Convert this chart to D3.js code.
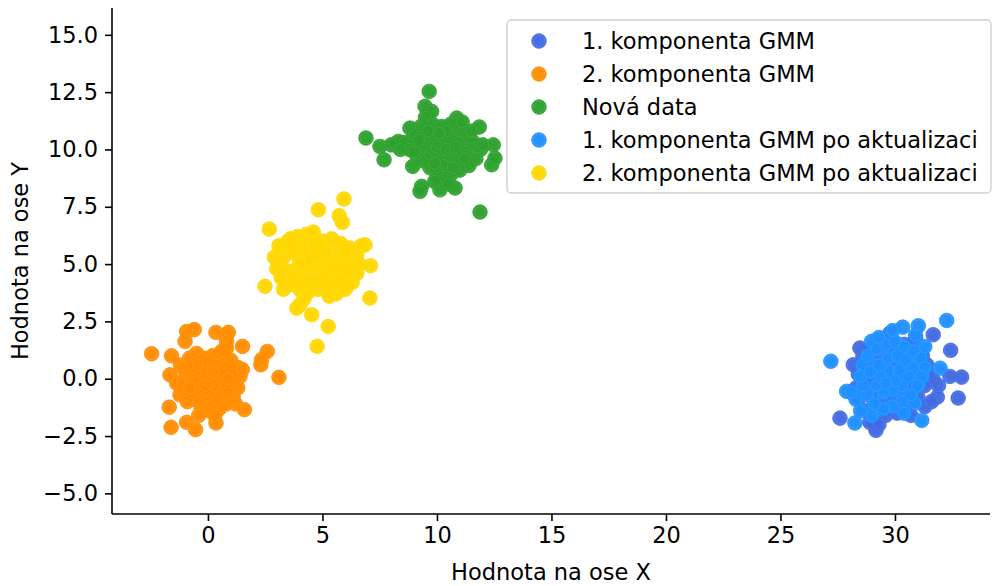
<!DOCTYPE html>
<html>
<head>
<meta charset="utf-8">
<script src="https://cdn.jsdelivr.net/npm/d3@7"></script>
<style>
  html, body { margin: 0; padding: 0; background: #fff; }
  svg { display: block; font-family: "DejaVu Sans", sans-serif; }
</style>
</head>
<body>
<svg id="chart" width="992" height="586"></svg>
<script>
/* ── data ─────────────────────────────────────────── */

const seriesNames = [
  "1. komponenta GMM",
  "2. komponenta GMM",
  "Nová data",
  "1. komponenta GMM po aktualizaci",
  "2. komponenta GMM po aktualizaci"
];
const seriesColors = ["#4169E1", "#FF8C00", "#2ca02c", "#1E90FF", "#FFD700"];

const comp1 = [
  [28.47,1.34],[28.18,0.61],[31.67,1.92],[32.43,1.24],[32.4,0.1],[32.91,0.07],[32.76,-0.84],
  [31.85,-0.8],[27.6,-1.72],[29.17,-2.25],[31.67,-0.04],[31.31,-1.21],[29.78,1.99],
  [28.6,1.0],[29.0,1.3],[29.4,1.5],[29.9,1.6],[30.4,1.5],[30.8,1.3],[31.2,1.0],[31.4,0.6],
  [31.5,0.2],[31.3,-0.3],[31.0,-0.8],[30.6,-1.2],[30.1,-1.5],[29.6,-1.6],[29.1,-1.9],[28.7,-1.4],
  [28.4,-0.9],[28.3,-0.4],[28.4,0.2],[28.8,0.5],[29.2,0.8],[29.6,1.0],[30.0,1.1],[30.5,0.9],
  [30.9,0.6],[31.0,0.1],[30.8,-0.4],[30.4,-0.8],[29.9,-1.0],[29.4,-1.1],[29.0,-0.8],[28.8,-0.3],
  [29.1,0.1],[29.5,0.4],[29.9,0.5],[30.3,0.3],[30.6,0.0],[30.3,-0.4],[29.8,-0.5],[29.4,-0.4],
  [30.0,0.0],[29.6,0.0],[31.9,-0.3],[30.9,1.8],[28.9,-1.9],[29.3,-2.0],[30.7,-1.6],[31.6,-1.0]
];

const comp2 = [
  [-2.46,1.09],[-1.59,1.0],[-1.66,0.17],[-1.69,-1.24],[-1.61,-2.12],[-0.93,-1.9],[-0.54,-2.22],
  [0.35,-1.93],[1.59,-1.35],[3.1,0.06],[2.59,1.19],[2.31,0.61],[2.34,0.83],[1.51,1.41],
  [0.89,2.02],[0.35,2.02],[0.81,1.63],[-0.6,2.14],[-0.93,2.06],[-1.0,1.63],[0.81,1.34],
  [-1.22,-0.7],[-1.37,-0.19],
  [-0.8,0.9],[-0.5,1.1],[-0.2,0.9],[0.2,1.0],[0.6,0.9],[1.0,0.8],[1.3,0.5],[1.4,0.1],[1.3,-0.4],
  [1.1,-0.8],[0.8,-1.1],[0.5,-1.3],[0.1,-1.4],[-0.3,-1.2],[-0.6,-0.9],[-0.9,-0.6],[-1.1,-0.2],
  [-1.0,0.3],[-0.7,0.5],[-0.4,0.6],[0.0,0.5],[0.4,0.6],[0.8,0.5],[1.1,0.2],[0.9,-0.2],[0.6,-0.5],
  [0.2,-0.7],[-0.2,-0.6],[-0.5,-0.3],[-0.3,0.1],[0.1,0.1],[0.5,0.0],[0.3,-0.3],[-0.1,-0.3],
  [0.7,0.2],[0.2,0.3],[-0.6,0.0],[0.0,-1.0],[0.4,-0.9],[0.9,-0.6],[-0.9,-1.0],[1.2,-1.1],
  [-1.2,0.6],[0.6,1.2],[-0.4,-1.6],[0.3,-1.6],[1.5,0.4],[-0.8,-0.4],[0.0,0.8],[0.9,0.0]
];

const newData = [
  [9.66,12.53],[6.9,10.5],[7.51,10.13],[7.69,9.55],[8.94,9.26],[8.31,10.35],[9.33,8.39],
  [9.26,8.17],[10.13,8.24],[10.79,8.32],[11.88,7.27],[11.85,10.98],[12.46,10.2],[12.39,9.33],
  [12.53,9.62],[9.48,11.88],[9.77,11.66],[10.86,11.37],[8.82,10.93],
  [8.0,10.2],[8.6,10.3],[9.0,10.6],[9.3,11.0],[9.5,11.4],[9.8,11.1],[10.2,11.0],[10.6,11.1],
  [11.0,10.9],[11.3,10.6],[11.6,10.3],[11.9,10.0],[11.7,9.6],[11.4,9.3],[11.0,9.1],[10.6,8.9],
  [10.3,8.7],[10.0,8.9],[9.7,9.2],[9.4,9.5],[9.1,9.8],[8.8,10.0],[9.4,10.2],[9.8,10.5],
  [10.2,10.4],[10.6,10.5],[11.0,10.3],[11.3,9.9],[10.9,9.7],[10.5,9.5],[10.1,9.6],[9.7,9.8],
  [10.0,10.1],[10.4,10.0],[10.8,10.1],[10.3,9.3],[9.9,9.4],[10.7,9.2],[11.2,9.6],[9.2,10.4],
  [9.6,10.8],[10.4,10.8],[11.5,10.8],[10.1,10.7],[12.0,10.2],[10.5,8.5],[9.9,8.6],[11.1,11.2],
  [8.4,10.0],[9.0,9.9]
];

const comp1Updated = [
  [27.2,0.76],[32.26,2.54],[30.34,2.25],[31.02,2.31],[27.89,-0.55],[28.25,-1.93],[31.17,-1.82],
  [30.87,-1.06],[31.97,0.46],[28.98,1.63],
  [28.6,0.6],[28.8,1.0],[29.2,1.3],[29.6,1.5],[30.0,1.6],[30.4,1.4],[30.8,1.2],[31.1,0.9],
  [31.3,0.5],[31.2,0.1],[31.0,-0.3],[30.7,-0.7],[30.3,-1.0],[29.9,-1.2],[29.5,-1.3],[29.1,-1.1],
  [28.8,-0.7],[28.6,-0.3],[28.5,0.1],[28.9,0.3],[29.3,0.6],[29.7,0.9],[30.1,1.0],[30.5,0.8],
  [30.8,0.5],[30.6,0.1],[30.3,-0.3],[29.9,-0.5],[29.5,-0.6],[29.2,-0.3],[29.4,0.1],[29.8,0.3],
  [30.2,0.4],[30.0,-0.1],[29.6,-0.2],[28.3,-0.9],[28.5,-1.4],[29.0,-1.6],[30.4,-1.5],[31.3,1.4],
  [30.9,1.9],[29.9,2.1],[28.1,-0.6],[29.3,1.8]
];

const comp2Updated = [
  [2.68,6.53],[4.82,7.37],[5.94,7.84],[5.73,7.11],[5.87,6.82],[2.49,4.03],[7.07,3.52],
  [6.86,5.84],[7.1,4.93],[4.02,3.23],[4.53,2.79],[5.25,2.28],[4.77,1.41],[3.88,3.08],
  [3.1,5.8],[3.5,6.0],[3.9,6.2],[4.3,6.3],[4.6,6.1],[5.0,6.0],[5.4,6.1],[5.8,5.9],[6.2,5.7],
  [6.5,5.4],[6.6,5.0],[6.5,4.6],[6.3,4.2],[6.0,3.9],[5.6,3.7],[5.2,3.8],[4.8,3.9],[4.4,3.8],
  [4.0,3.9],[3.6,4.1],[3.2,4.4],[3.0,4.8],[2.9,5.3],[3.3,5.3],[3.7,5.5],[4.1,5.7],[4.5,5.5],
  [4.9,5.4],[5.3,5.5],[5.7,5.3],[6.1,5.1],[5.9,4.7],[5.5,4.5],[5.1,4.6],[4.7,4.8],[4.3,4.9],
  [3.9,4.8],[3.5,4.7],[3.8,4.3],[4.2,4.4],[4.6,4.2],[5.0,4.2],[5.4,4.1],[5.8,4.3],[6.2,4.6],
  [4.4,5.2],[5.2,5.0],[5.6,4.9],[3.4,5.8],[4.0,5.1],[4.8,5.8],[6.0,5.5],[3.3,3.9],[4.2,3.5],
  [5.3,3.6],[6.7,5.8],[4.6,6.4],[3.6,6.1]
];

const allSeries = [comp1, comp2, newData, comp1Updated, comp2Updated];

const xTicks = [0, 5, 10, 15, 20, 25, 30];
const yTicks = [-5, -2.5, 0, 2.5, 5, 7.5, 10, 12.5, 15];

/* ── layout ───────────────────────────────────────── */

const FONT = 22.5;
const R = 7.3;
const plot = { left: 112, right: 990, top: 8, bottom: 514 };

const x = d3.scaleLinear().domain([-4.19, 34.15]).range([plot.left, plot.right]);
const y = d3.scaleLinear().domain([-5.9, 16.17]).range([plot.bottom, plot.top]);

const svg = d3.select("#chart");

/* ── points ───────────────────────────────────────── */

function drawDot(sel, col) {
  sel.append("circle")
    .attr("r", R)
    .attr("fill", col)
    .attr("fill-opacity", 0.97)
    .attr("stroke", col)
    .attr("stroke-width", 0.8);
  sel.append("circle")
    .attr("r", R - 1.3)
    .attr("fill", "none")
    .attr("stroke", "#fff")
    .attr("stroke-opacity", 0.22)
    .attr("stroke-width", 0.5);
}

allSeries.forEach((pts, i) => {
  svg.append("g")
    .selectAll("g.dot")
    .data(pts)
    .join("g")
    .attr("class", "dot")
    .attr("transform", d => `translate(${x(d[0])},${y(d[1])})`)
    .call(drawDot, seriesColors[i]);
});

/* ── axes ─────────────────────────────────────────── */

const fmtMinus = s => s.replace("-", "\u2212");

const xAxis = svg.append("g")
  .attr("transform", `translate(0,${plot.bottom})`)
  .call(d3.axisBottom(x).tickValues(xTicks).tickSize(7).tickPadding(6)
    .tickFormat(d => fmtMinus(d3.format("d")(d))));

const yAxis = svg.append("g")
  .attr("transform", `translate(${plot.left},0)`)
  .call(d3.axisLeft(y).tickValues(yTicks).tickSize(7).tickPadding(7)
    .tickFormat(d => fmtMinus(d3.format(".1f")(d))));

[xAxis, yAxis].forEach(ax => {
  ax.select(".domain").attr("stroke", "#000").attr("stroke-width", 1.6);
  ax.selectAll(".tick line").attr("stroke", "#000").attr("stroke-width", 1.6);
  ax.selectAll("text")
    .attr("fill", "#000")
    .attr("font-size", FONT)
    .attr("font-family", "DejaVu Sans, sans-serif");
});
xAxis.select(".domain").attr("d", `M${plot.left},0H${plot.right}`);
yAxis.select(".domain").attr("d", `M0,${plot.bottom}V${plot.top}`);

svg.append("text")
  .attr("x", (plot.left + plot.right) / 2)
  .attr("y", 580)
  .attr("text-anchor", "middle")
  .attr("font-size", FONT)
  .text("Hodnota na ose X");

svg.append("text")
  .attr("transform", `translate(28,${(plot.top + plot.bottom) / 2}) rotate(-90)`)
  .attr("text-anchor", "middle")
  .attr("font-size", FONT)
  .text("Hodnota na ose Y");

/* ── legend ───────────────────────────────────────── */

const legend = svg.append("g").attr("transform", "translate(507,20)");
legend.append("rect")
  .attr("width", 484).attr("height", 173)
  .attr("rx", 4)
  .attr("fill", "#fff").attr("fill-opacity", 0.8)
  .attr("stroke", "#d0d0d0").attr("stroke-width", 1.4);

const rows = legend.selectAll("g.row")
  .data(seriesNames)
  .join("g")
  .attr("class", "row")
  .attr("transform", (d, i) => `translate(0,${21 + i * 33})`);

rows.each(function(d, i) {
  d3.select(this).append("g")
    .attr("transform", "translate(32,0)")
    .call(drawDot, seriesColors[i]);
});
rows.append("text")
  .attr("x", 75).attr("dy", "0.36em")
  .attr("font-size", FONT)
  .text(d => d);
</script>
</body>
</html>
